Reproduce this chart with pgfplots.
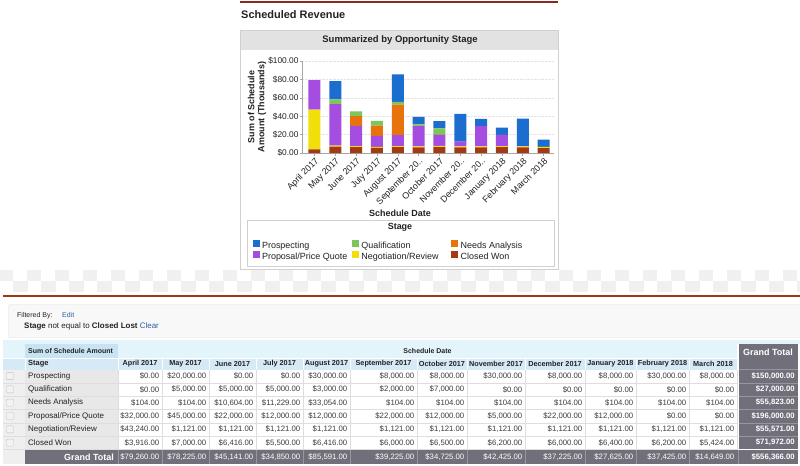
\documentclass[border=0pt]{standalone}
\usepackage{fontspec}
\setmainfont{Liberation Sans}
\usepackage{pgfplots}
\pgfplotsset{compat=1.18}
\definecolor{cProsp}{RGB}{27,110,207}
\definecolor{cQual}{RGB}{125,198,90}
\definecolor{cNA}{RGB}{232,114,12}
\definecolor{cProp}{RGB}{165,77,224}
\definecolor{cNeg}{RGB}{242,222,10}
\definecolor{cCW}{RGB}{163,58,18}
\definecolor{sfred}{RGB}{140,40,30}
\definecolor{txt}{RGB}{34,34,34}
\definecolor{valtxt}{RGB}{60,60,60}
\definecolor{gtbg}{RGB}{112,111,122}
\definecolor{gtline}{RGB}{150,150,160}
\definecolor{hdrA}{RGB}{228,244,251}
\definecolor{hdrB}{RGB}{213,234,246}
\definecolor{hdrC}{RGB}{200,227,242}
\definecolor{stagebg}{RGB}{232,232,232}
\definecolor{linkblue}{RGB}{45,95,165}
\definecolor{panelhdr}{RGB}{226,226,226}
\definecolor{panelbd}{RGB}{208,208,208}
\definecolor{cellbd}{RGB}{222,222,222}
\definecolor{checker}{RGB}{240,240,240}
\newcommand\fs[1]{\fontsize{#1}{#1}\selectfont}
\newcommand\trow[2]{%
  \foreach \v [count=\i] in {#2} {%
    \pgfmathsetmacro\xr{{162,209,256,303,350,417,467,525,585,636,689,737}[\i-1]-2.5}
    \node[anchor=east, inner sep=0, font=\fs{7.8}, text=valtxt] at (\xr,#1) {\v};
  }}
\newcommand\gtrow[2]{%
  \foreach \v [count=\i] in {#2} {%
    \pgfmathsetmacro\xr{{162,209,256,303,350,417,467,525,585,636,689,737}[\i-1]-2.5}
    \node[anchor=east, inner sep=0, font=\fs{7.8}, text=white] at (\xr,#1) {\v};
  }}
\begin{document}
\begin{tikzpicture}
\useasboundingbox (0bp,0bp) rectangle (800bp,-466bp);
\begin{scope}[x=1bp,y=-1bp]
\fill[white] (0,0) rectangle (800,466);
% title and top line
\fill[sfred] (240,1.5) rectangle (558,3.5);
\node[anchor=west, font=\bfseries\fs{11}, text=txt, inner sep=0] at (241,14.5) {Scheduled Revenue};
% chart panel
\draw[panelbd, fill=white] (240.5,30.5) rectangle (558.5,269.5);
\fill[panelhdr] (241,31) rectangle (558,50);
\node[font=\bfseries\fs{9.5}, text=txt] at (400,40.5) {Summarized by Opportunity Stage};
\node[rotate=90, align=center, font=\bfseries\fontsize{9}{10}\selectfont, text=txt] at (257,107) {Sum of Schedule\\Amount (Thousands)};
\node[font=\bfseries\fs{9}, text=txt] at (400,213) {Schedule Date};
% legend frame
\draw[panelbd, line width=0.8pt] (247,220.5) rectangle (554,266.5);
\node[font=\bfseries\fs{9}, text=txt] at (400,227.5) {Stage};
% checker strip
\foreach \k in {0,...,28} {
  \fill[checker] ({-1+28*\k},270) rectangle ({13+28*\k},280.5);
  \fill[checker] ({13+28*\k},280.5) rectangle ({28+28*\k},292);
}
% red separator
\fill[sfred!85!orange] (3,295) rectangle (800,297);
% filter box
\draw[cellbd, fill={rgb,255:red,248;green,248;blue,248}, rounded corners=2] (8.5,304.5) rectangle (805,337.5);
\node[anchor=west, inner sep=0, font=\fs{7}, text=txt] at (17,316) {Filtered By:};
\node[anchor=west, inner sep=0, font=\fs{7}, text=linkblue] at (62,315.5) {Edit};
\node[anchor=west, inner sep=0, font=\fs{8}, text=txt] at (24,326) {\textbf{Stage} not equal to \textbf{Closed Lost} {\color{linkblue}Clear}};
% ---------------- table ----------------
\fill[hdrA] (3,340) rectangle (800,344);
\fill[hdrA] (3,344) rectangle (737,358);
\fill[hdrC] (25,344) rectangle (118,358);
\fill[hdrB] (3,358) rectangle (737,369.5);
\foreach \x in {25,118,162,209,256,303,350,417,467,525,585,636,689} \draw[white, line width=0.8pt] (\x,358) -- (\x,369.5);
\draw[white, line width=0.8pt] (3,358) -- (737,358);
\node[anchor=west, inner sep=0, font=\bfseries\fs{7}, text=txt] at (28,351.5) {Sum of Schedule Amount};
\node[inner sep=0, font=\bfseries\fs{7}, text=txt] at (427.5,351) {Schedule Date};
\node[anchor=west, inner sep=0, font=\bfseries\fs{7.5}, text=txt] at (28,364) {Stage};
\foreach \c/\t in {140/April 2017,185.5/May 2017,232.5/June 2017,279.5/July 2017,326.5/August 2017,383.5/September 2017,442/October 2017,496/November 2017,555/December 2017,610.5/January 2018,662.5/February 2018,713/March 2018}
  \node[inner sep=0, font=\bfseries\fs{7.3}, text=txt] at (\c,364) {\t};
% grand total column header
\fill[gtbg] (738.5,344) rectangle (798,369.5);
\node[inner sep=0, font=\bfseries\fs{9}, text=white] at (768,352.5) {Grand Total};
% stage and checkbox columns
\fill[stagebg!70!white] (3,369.5) rectangle (25,464);
\fill[stagebg] (25,369.5) rectangle (118,449.5);
\fill[white] (118,369.5) rectangle (737,449.5);
\foreach \y in {382.8,396.1,409.4,422.7,436} {
  \draw[cellbd] (3,\y) -- (737,\y);
}
\draw[cellbd] (3,449.5) -- (737,449.5);
\foreach \x in {162,209,256,303,350,417,467,525,585,636,689} \draw[cellbd] (\x,369.5) -- (\x,449.5);
\draw[cellbd] (118,369.5) -- (118,449.5);
\draw[cellbd] (737,369.5) -- (737,449.5);
\fill[gtbg] (738.5,369.9) rectangle (798,449.1);
\foreach \y in {382.8,396.1,409.4,422.7,436} \draw[gtline] (738.5,\y) -- (798,\y);
\draw[gtline] (738.5,369.5) -- (798,369.5);
% checkboxes
\foreach \y in {376.1,389.4,402.7,416,429.4,442.7}
  \draw[rounded corners=0.8, draw={rgb,255:red,195;green,195;blue,195}, fill={rgb,255:red,242;green,242;blue,242}] (6.5,\y-3.5) rectangle (13.5,\y+3.5);
% stage names
\foreach \y/\t in {376.1/{Prospecting},389.4/{Qualification},402.7/{Needs Analysis},416/{Proposal/Price Quote},429.4/{Negotiation/Review},442.7/{Closed Won}}
  \node[anchor=west, inner sep=0, font=\fs{8}, text=txt] at (28,\y) {\t};
% values
\trow{376.1}{{\$0.00},{\$20,000.00},{\$0.00},{\$0.00},{\$30,000.00},{\$8,000.00},{\$8,000.00},{\$30,000.00},{\$8,000.00},{\$8,000.00},{\$30,000.00},{\$8,000.00}}
\trow{389.4}{{\$0.00},{\$5,000.00},{\$5,000.00},{\$5,000.00},{\$3,000.00},{\$2,000.00},{\$7,000.00},{\$0.00},{\$0.00},{\$0.00},{\$0.00},{\$0.00}}
\trow{402.7}{{\$104.00},{\$104.00},{\$10,604.00},{\$11,229.00},{\$33,054.00},{\$104.00},{\$104.00},{\$104.00},{\$104.00},{\$104.00},{\$104.00},{\$104.00}}
\trow{416}{{\$32,000.00},{\$45,000.00},{\$22,000.00},{\$12,000.00},{\$12,000.00},{\$22,000.00},{\$12,000.00},{\$5,000.00},{\$22,000.00},{\$12,000.00},{\$0.00},{\$0.00}}
\trow{429.4}{{\$43,240.00},{\$1,121.00},{\$1,121.00},{\$1,121.00},{\$1,121.00},{\$1,121.00},{\$1,121.00},{\$1,121.00},{\$1,121.00},{\$1,121.00},{\$1,121.00},{\$1,121.00}}
\trow{442.7}{{\$3,916.00},{\$7,000.00},{\$6,416.00},{\$5,500.00},{\$6,416.00},{\$6,000.00},{\$6,500.00},{\$6,200.00},{\$6,000.00},{\$6,400.00},{\$6,200.00},{\$5,424.00}}
\foreach \y/\t in {376.1/{\$150,000.00},389.4/{\$27,000.00},402.7/{\$55,823.00},416/{\$196,000.00},429.4/{\$55,571.00},442.7/{\$71,972.00}}
  \node[anchor=east, inner sep=0, font=\bfseries\fs{7.8}, text=white] at (795,\y) {\t};
% grand total row
\fill[gtbg] (25,450) rectangle (798,464);
\foreach \x in {118,162,209,256,303,350,417,467,525,585,636,689,737.7} \draw[gtline] (\x,450) -- (\x,464);
\node[anchor=east, inner sep=0, font=\bfseries\fs{9}, text=white] at (114,457) {Grand Total};
\gtrow{457}{{\$79,260.00},{\$78,225.00},{\$45,141.00},{\$34,850.00},{\$85,591.00},{\$39,225.00},{\$34,725.00},{\$42,425.00},{\$37,225.00},{\$27,625.00},{\$37,425.00},{\$14,649.00}}
\node[anchor=east, inner sep=0, font=\bfseries\fs{7.8}, text=white] at (795,457) {\$556,366.00};
\end{scope}
\begin{axis}[
  at={(302bp,-153bp)}, anchor=south west,
  scale only axis, width=252bp, height=92bp,
  xmin=-0.6, xmax=11.5, ymin=0, ymax=100,
  ybar stacked, bar width=12bp,
  axis lines=left, axis line style={-, draw=gray!70, line width=0.6pt},
  tick align=outside, major tick length=2.5bp,
  tick style={draw=gray!70, line width=0.6pt},
  xtick={0,...,11},
  xticklabels={April 2017,May 2017,June 2017,July 2017,August 2017,September 20..,October 2017,November 20..,December 20..,January 2018,February 2018,March 2018},
  ytick={0,20,...,100},
  yticklabels={\$0.00,\$20.00,\$40.00,\$60.00,\$80.00,\$100.00},
  ymajorgrids, grid style={densely dotted, gray!22},
  ticklabel style={text=txt},
  yticklabel style={font=\fs{8.4}, inner sep=0.8bp},
  xticklabel style={font=\fs{9}, rotate=45, anchor=north east, inner sep=1bp},
  /pgf/number format/assume math mode=true,
  legend columns=3,
  legend image code/.code={\fill[#1, draw=none] (0bp,-0.3bp) rectangle (7bp,6.7bp);},
  legend style={at={(-0.197,-0.94)}, anchor=north west, draw=none, fill=none,
    font=\fs{9}, inner sep=0pt, row sep=0bp, text=txt,
    nodes={inner sep=0.3bp, text height=6bp, text depth=2bp},
    /tikz/every odd column/.append style={column sep=2.2bp},
    /tikz/every even column/.append style={column sep=0bp}},
  legend cell align=left,
]
\addplot[fill=cCW, draw=none, forget plot] coordinates {(0,3.916) (1,7) (2,6.416) (3,5.5) (4,6.416) (5,6) (6,6.5) (7,6.2) (8,6) (9,6.4) (10,6.2) (11,5.424)};
\addplot[fill=cNeg, draw=none, forget plot] coordinates {(0,43.24) (1,1.121) (2,1.121) (3,1.121) (4,1.121) (5,1.121) (6,1.121) (7,1.121) (8,1.121) (9,1.121) (10,1.121) (11,1.121)};
\addplot[fill=cProp, draw=none, forget plot] coordinates {(0,32) (1,45) (2,22) (3,12) (4,12) (5,22) (6,12) (7,5) (8,22) (9,12) (10,0) (11,0)};
\addplot[fill=cNA, draw=none, forget plot] coordinates {(0,0.104) (1,0.104) (2,10.604) (3,11.229) (4,33.054) (5,0.104) (6,0.104) (7,0.104) (8,0.104) (9,0.104) (10,0.104) (11,0.104)};
\addplot[fill=cQual, draw=none, forget plot] coordinates {(0,0) (1,5) (2,5) (3,5) (4,3) (5,2) (6,7) (7,0) (8,0) (9,0) (10,0) (11,0)};
\addplot[fill=cProsp, draw=none, forget plot] coordinates {(0,0) (1,20) (2,0) (3,0) (4,30) (5,8) (6,8) (7,30) (8,8) (9,8) (10,30) (11,8)};
\addlegendimage{fill=cProsp}\addlegendentry{\makebox[89.5bp][l]{Prospecting}}
\addlegendimage{fill=cQual}\addlegendentry{\makebox[89.5bp][l]{Qualification}}
\addlegendimage{fill=cNA}\addlegendentry{Needs Analysis}
\addlegendimage{fill=cProp}\addlegendentry{\makebox[89.5bp][l]{Proposal/Price Quote}}
\addlegendimage{fill=cNeg}\addlegendentry{\makebox[89.5bp][l]{Negotiation/Review}}
\addlegendimage{fill=cCW}\addlegendentry{Closed Won}
\end{axis}
\end{tikzpicture}
\end{document}
